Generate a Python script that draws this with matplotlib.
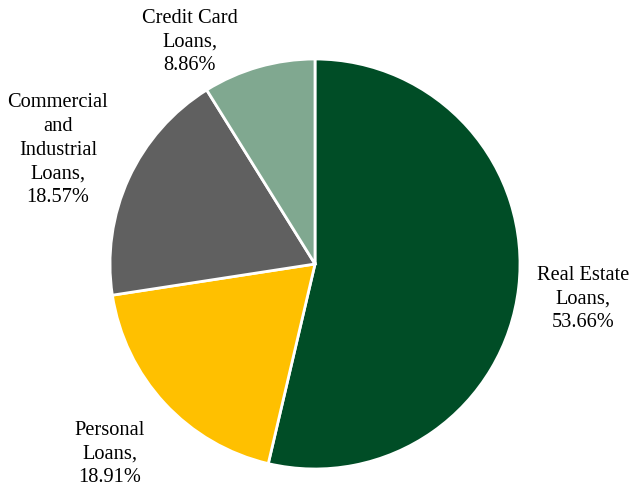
import numpy as np
import matplotlib.pyplot as plt

categories = ["Real Estate\nLoans", "Personal\nLoans", "Commercial\nand\nIndustrial\nLoans", "Credit Card\nLoans"]
shares = [53.66, 18.91, 18.57, 8.86]
colors = ["#004d26", "#ffc000", "#606060", "#80a890"]
# label anchor points in pie-radius units
label_xy = [(1.307, -0.171), (-1.0, -0.927), (-1.254, 0.556), (-0.61, 1.083)]

plt.rcParams["font.family"] = ["Liberation Serif", "DejaVu Serif"]

W, H = 635, 487
fig = plt.figure(figsize=(W / 100, H / 100), dpi=100)
cx, cy, r = 315, 264, 205
ax = fig.add_axes([(cx - r) / W, (H - cy - r) / H, 2 * r / W, 2 * r / H])

ax.pie(shares, colors=colors, startangle=90, counterclock=False, radius=1,
       wedgeprops=dict(edgecolor="white", linewidth=2))
ax.set_xlim(-1, 1)
ax.set_ylim(-1, 1)
ax.set_aspect("equal")
ax.axis("off")

for name, val, (x, y) in zip(categories, shares, label_xy):
    ax.text(x, y, f"{name},\n{val:.2f}%", ha="center", va="center",
            fontsize=14.7, linespacing=1.34, clip_on=False)

fig.savefig("out.png", dpi=100)
